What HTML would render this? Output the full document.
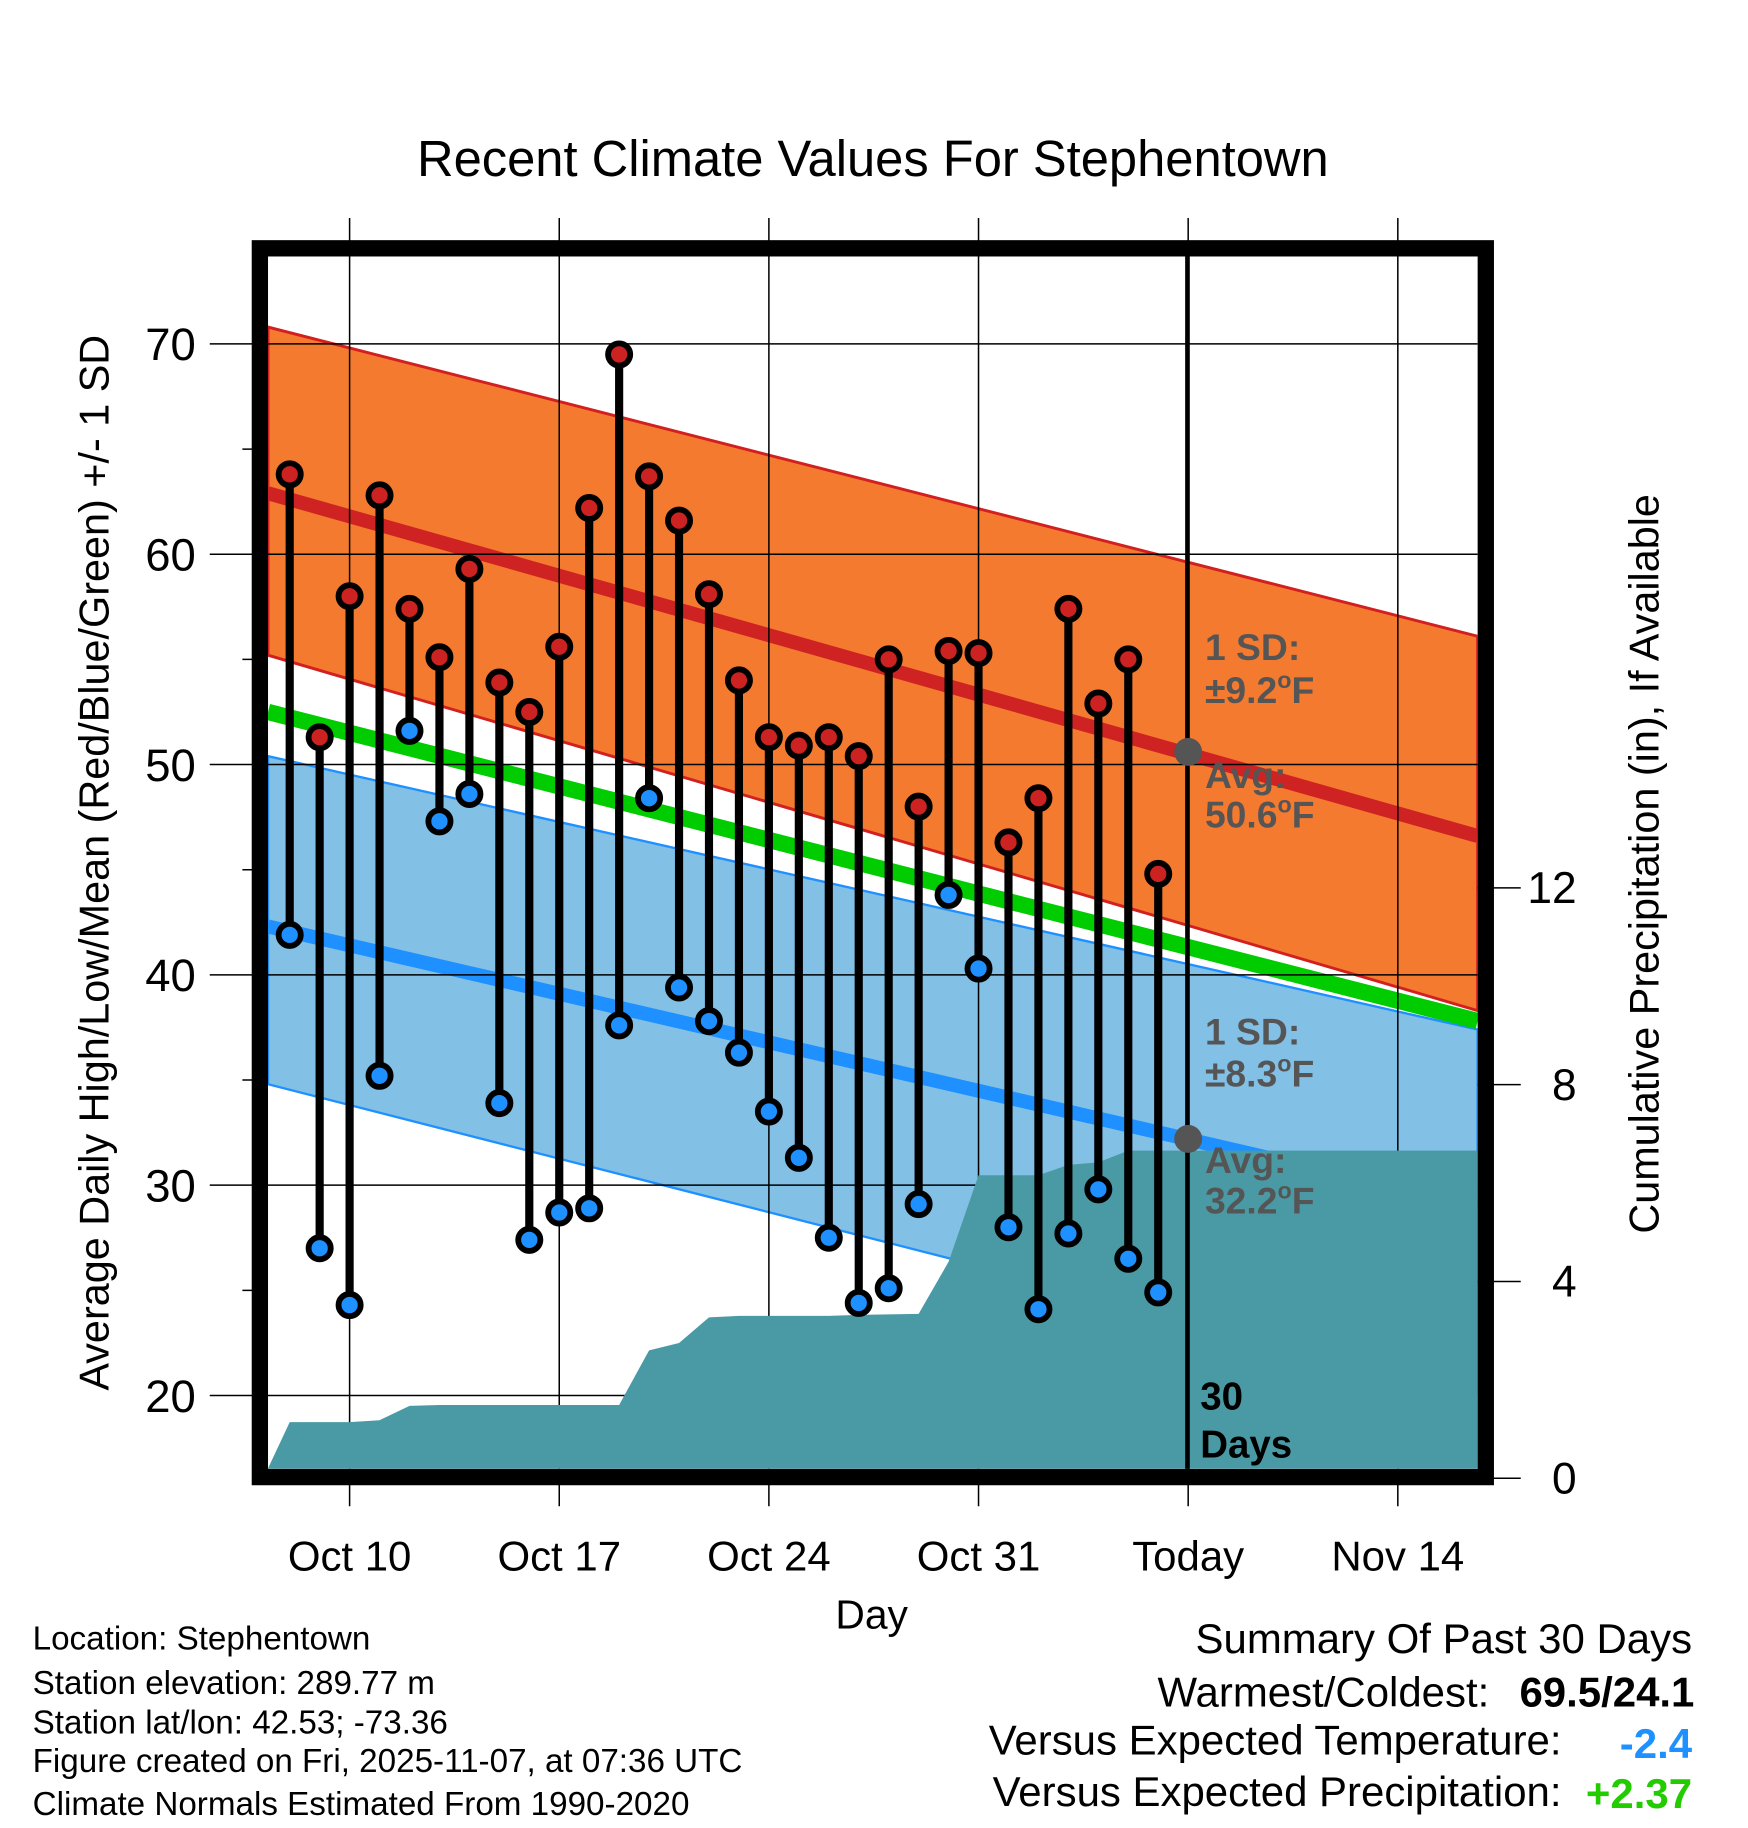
<!DOCTYPE html>
<html><head><meta charset="utf-8"><style>
html,body{margin:0;padding:0;background:#fff}
svg{display:block;font-family:"Liberation Sans",Arial,sans-serif}
</style></head><body>
<svg id="chart" width="1748" height="1828" viewBox="0 0 1500 1568" preserveAspectRatio="none" xmlns="http://www.w3.org/2000/svg">
<text x="749" y="151" font-size="43.5" text-anchor="middle">Recent Climate Values For Stephentown</text>
<g id="plot"></g>
<text transform="translate(93,740) rotate(-90)" font-size="35.5" text-anchor="middle">Average Daily High/Low/Mean (Red/Blue/Green) +/- 1 SD</text>
<text transform="translate(1423,741) rotate(-90)" font-size="35.5" text-anchor="middle">Cumulative Precipitation (in), If Available</text>
<text x="748" y="1397" font-size="35" text-anchor="middle">Day</text>
<g font-size="28.5">
<text x="28" y="1415">Location: Stephentown</text>
<text x="28" y="1453">Station elevation: 289.77 m</text>
<text x="28" y="1487">Station lat/lon: 42.53; -73.36</text>
<text x="28" y="1520">Figure created on Fri, 2025-11-07, at 07:36 UTC</text>
<text x="28" y="1557">Climate Normals Estimated From 1990-2020</text>
</g>
<g font-size="36" text-anchor="end">
<text x="1452" y="1418">Summary Of Past 30 Days</text>
<text x="1278" y="1464">Warmest/Coldest:</text>
<text x="1454" y="1464" font-weight="bold">69.5/24.1</text>
<text x="1340" y="1505">Versus Expected Temperature:</text>
<text x="1452" y="1508" font-weight="bold" fill="#1e90ff">-2.4</text>
<text x="1340" y="1549">Versus Expected Precipitation:</text>
<text x="1452" y="1551" font-weight="bold" fill="#22cc00">+2.37</text>
</g>
</svg>
<script>
const days = ["Oct 8","Oct 9","Oct 10","Oct 11","Oct 12","Oct 13","Oct 14","Oct 15","Oct 16","Oct 17","Oct 18","Oct 19","Oct 20","Oct 21","Oct 22","Oct 23","Oct 24","Oct 25","Oct 26","Oct 27","Oct 28","Oct 29","Oct 30","Oct 31","Nov 1","Nov 2","Nov 3","Nov 4","Nov 5","Nov 6"];
const highs = [63.8,51.3,58.0,62.8,57.4,55.1,59.3,53.9,52.5,55.6,62.2,69.5,63.7,61.6,58.1,54.0,51.3,50.9,51.3,50.4,55.0,48.0,55.4,55.3,46.3,48.4,57.4,52.9,55.0,44.8];
const lows = [41.9,27.0,24.3,35.2,51.6,47.3,48.6,33.9,27.4,28.7,28.9,37.6,48.4,39.4,37.8,36.3,33.5,31.3,27.5,24.4,25.1,29.1,43.8,40.3,28.0,24.1,27.7,29.8,26.5,24.9];
const precip = [1.14,1.14,1.14,1.18,1.47,1.49,1.49,1.49,1.49,1.49,1.49,1.49,2.6,2.75,3.27,3.3,3.3,3.3,3.3,3.32,3.33,3.34,4.4,6.16,6.16,6.16,6.37,6.42,6.66,6.66];
const precipStart = 0.2;
const highNormal = [62.9, 46.6];
const highUpper = [70.8, 56.1];
const highLower = [55.2, 38.3];
const lowNormal = [42.3, 29.0];
const lowUpper = [50.4, 37.4];
const lowLower = [34.8, 20.1];
const meanNormal = [52.5, 37.8];
const xTickLabels = ["Oct 10","Oct 17","Oct 24","Oct 31","Today","Nov 14"];
const xTickDays = [2,9,16,23,30,37];
const yTicks = [20,30,40,50,60,70];
const y2Ticks = [0,4,8,12];
const todayIdx = 30;
const todayHigh = 50.6, todayLow = 32.2;

const NS="http://www.w3.org/2000/svg";
const plot=document.getElementById('plot');
const L=230,R=1268,T=220,B=1260;
const X=d=>248.6+25.7*d;
const Y=t=>1197-(t-20)*18.04;
const P=p=>1268-p*42.2;
function el(tag,attrs,parent){const e=document.createElementNS(NS,tag);for(const k in attrs)e.setAttribute(k,attrs[k]);(parent||plot).appendChild(e);return e;}
const clip=el('clipPath',{id:'pc'});el('rect',{x:L,y:T,width:R-L,height:B-T},clip);
const g=el('g',{'clip-path':'url(#pc)'});
(function(){
 const mk=(tag,attrs)=>el(tag,attrs,g);
 let e=mk('polygon',{points:`${L},${Y(lowUpper[0])} ${R},${Y(lowUpper[1])} ${R},${Y(lowLower[1])} ${L},${Y(lowLower[0])}`,fill:'#82c0e6',stroke:'#1e90ff','stroke-width':2});
 
 
 e=mk('line',{x1:L,y1:Y(lowNormal[0]),x2:R,y2:Y(lowNormal[1]),stroke:'#1e90ff','stroke-width':12});
 
 
 e=mk('line',{x1:L,y1:Y(meanNormal[0]),x2:R,y2:Y(meanNormal[1]),stroke:'#00cc00','stroke-width':14});
 
 
 e=mk('polygon',{points:`${L},${Y(highUpper[0])} ${R},${Y(highUpper[1])} ${R},${Y(highLower[1])} ${L},${Y(highLower[0])}`,fill:'#f47a30',stroke:'#d22020','stroke-width':2.5});
 
 
 e=mk('line',{x1:L,y1:Y(highNormal[0]),x2:R,y2:Y(highNormal[1]),stroke:'#cf2222','stroke-width':12});
 
 
 yTicks.forEach(t=>{const l=mk('line',{x1:L,x2:R,y1:Y(t),y2:Y(t),stroke:'#000','stroke-width':1.3});
  
  });
 xTickDays.forEach(d=>{const l=mk('line',{x1:X(d),x2:X(d),y1:T,y2:B,stroke:'#000','stroke-width':1.3});
  
  });
 let pts=`${L},${B} ${L},${P(precipStart)} `;
 precip.forEach((p,i)=>{pts+=`${X(i)},${P(p)} `;});
 pts+=`${R},${P(precip[precip.length-1])} ${R},${B}`;
 e=mk('polygon',{points:pts,fill:'#4a9aa5'});
 
 
})();
xTickDays.forEach(d=>{
 let l=el('line',{x1:X(d),x2:X(d),y1:187,y2:T,stroke:'#000','stroke-width':1.3});
 
 
 l=el('line',{x1:X(d),x2:X(d),y1:B,y2:1292,stroke:'#000','stroke-width':1.3});
 
 
});
xTickLabels.forEach((s,i)=>{
 const t=el('text',{x:X(xTickDays[i]),y:1347,'font-size':36,'text-anchor':'middle'});t.textContent=s;
 
 
});
for(let v=20;v<=70;v+=5){
 const major=v%10===0;
 const l=el('line',{x1:major?180:208,x2:L,y1:Y(v),y2:Y(v),stroke:'#000','stroke-width':1.3});
 
 
}
yTicks.forEach(v=>{const t=el('text',{x:168,y:Y(v)+14,'font-size':39,'text-anchor':'end'});t.textContent=v;
 
 });
y2Ticks.forEach(v=>{
 const l=el('line',{x1:R,x2:1305,y1:P(v),y2:P(v),stroke:'#000','stroke-width':1.3});
 
 
 const t=el('text',{x:1353,y:P(v)+13,'font-size':38,'text-anchor':'end'});t.textContent=v;
 
 
});
let tl=el('line',{x1:X(todayIdx)-0.6,x2:X(todayIdx)-0.6,y1:T,y2:B,stroke:'#000','stroke-width':4});


highs.forEach((h,i)=>{
 const s=el('line',{x1:X(i),x2:X(i),y1:Y(h),y2:Y(lows[i]),stroke:'#000','stroke-width':7});
 
 
});
highs.forEach((h,i)=>{
 const c=el('circle',{cx:X(i),cy:Y(h),r:9.5,fill:'#cc2222',stroke:'#000','stroke-width':5});
 
 
 const c2=el('circle',{cx:X(i),cy:Y(lows[i]),r:9.5,fill:'#1e90ff',stroke:'#000','stroke-width':5});
 
 
});
let d1=el('circle',{cx:X(todayIdx),cy:Y(todayHigh),r:12,fill:'#555'});


let d2=el('circle',{cx:X(todayIdx),cy:Y(todayLow),r:12,fill:'#555'});


const ann=[["1 SD:","",566],["±9.2","F",603],["Avg:","",676],["50.6","F",710],["1 SD:","",896],["±8.3","F",932],["Avg:","",1006],["32.2","F",1041]];
ann.forEach(a=>{const t=el('text',{x:1034,y:a[2],'font-size':32,'font-weight':'bold',fill:'#555'});
 if(a[1]){t.appendChild(document.createTextNode(a[0]));
  const s=el('tspan',{'font-size':20,dy:-13},t);s.textContent='o';
  const f=el('tspan',{dy:13},t);f.textContent=a[1];}
 else t.textContent=a[0];
 
 });
[["30",1209],["Days",1250]].forEach(a=>{const t=el('text',{x:1030,y:a[1],'font-size':33,'font-weight':'bold',fill:'#000'});t.textContent=a[0];
 
 });
let fr=el('rect',{x:L-7,y:T-7,width:R-L+14,height:B-T+14,fill:'none',stroke:'#000','stroke-width':14});


</script>
</body></html>
